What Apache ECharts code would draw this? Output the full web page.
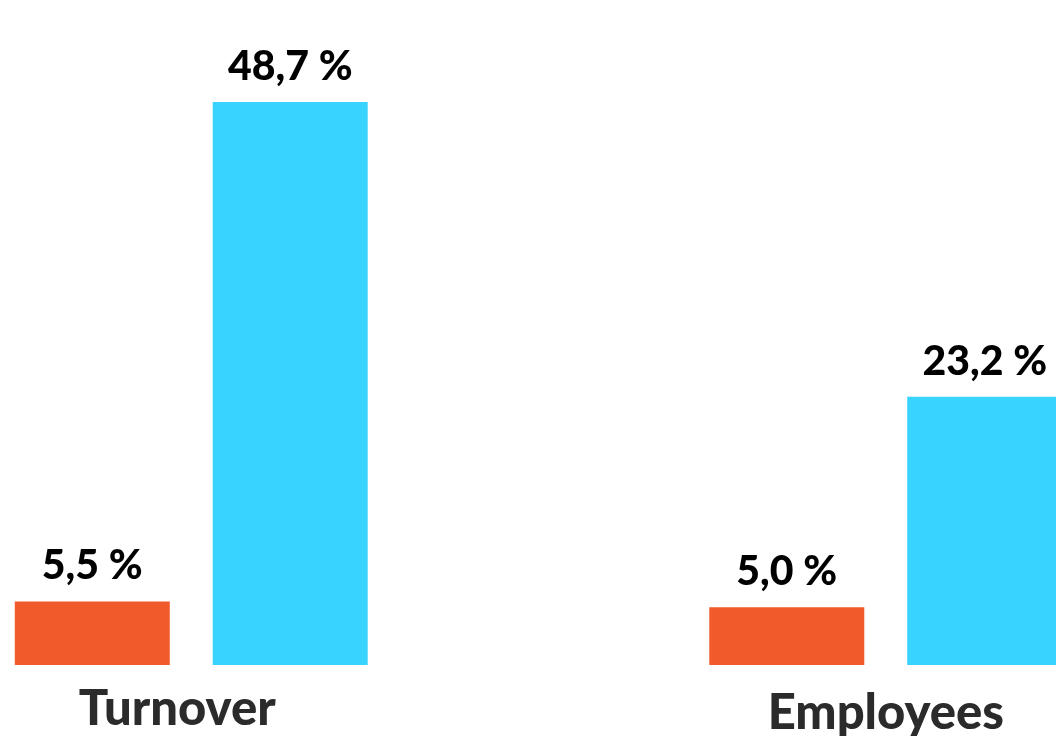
<!DOCTYPE html>
<html>
<head>
<meta charset="utf-8">
<script src="https://cdn.jsdelivr.net/npm/echarts@6/dist/echarts.min.js"></script>
<style>
html,body{margin:0;padding:0;background:#fff;overflow:hidden;width:1056px;height:736px;}
#chart{position:absolute;left:-156px;top:0;width:1389px;height:736px;}
</style>
</head>
<body>
<div id="chart"></div>
<script>
const categories = ['Turnover', 'Employees'];
const seriesA = [5.5, 5.0];
const seriesB = [48.7, 23.2];

const chart = echarts.init(document.getElementById('chart'));
const fmt = p => p.value.toFixed(1).replace('.', ',') + ' %';
const labelStyle = {
  show: true, position: 'top', distance: 15,
  formatter: fmt, color: '#000', fontSize: 41, fontWeight: 900,
  fontFamily: 'Lato'
};
chart.setOption({
  animation: false,
  grid: { left: 0, right: 0, top: 87, bottom: 71, containLabel: false, outerBoundsMode: 'none' },
  xAxis: {
    type: 'category', data: categories,
    axisLine: { show: false }, axisTick: { show: false },
    axisLabel: {
      margin: 20,
      formatter: v => v === 'Turnover' ? '{t|' + v + '}' : '{e|' + v + '}',
      rich: {
        t: { fontSize: 49, fontWeight: 900, fontFamily: 'Lato', color: '#2b2b2b', padding: [0, 28, 0, 0] },
        e: { fontSize: 49, fontWeight: 900, fontFamily: 'Lato', color: '#2b2b2b', padding: [4, 0, 0, 0] }
      }
    }
  },
  yAxis: { type: 'value', min: 0, max: 50, show: false, splitLine: { show: false } },
  series: [
    { type: 'bar', data: seriesA, barWidth: 155, barGap: '27.7%', itemStyle: { color: '#F15A2B' }, label: labelStyle },
    { type: 'bar', data: seriesB, barWidth: 155, itemStyle: { color: '#38D3FF' }, label: labelStyle }
  ]
});
</script>
</body>
</html>
